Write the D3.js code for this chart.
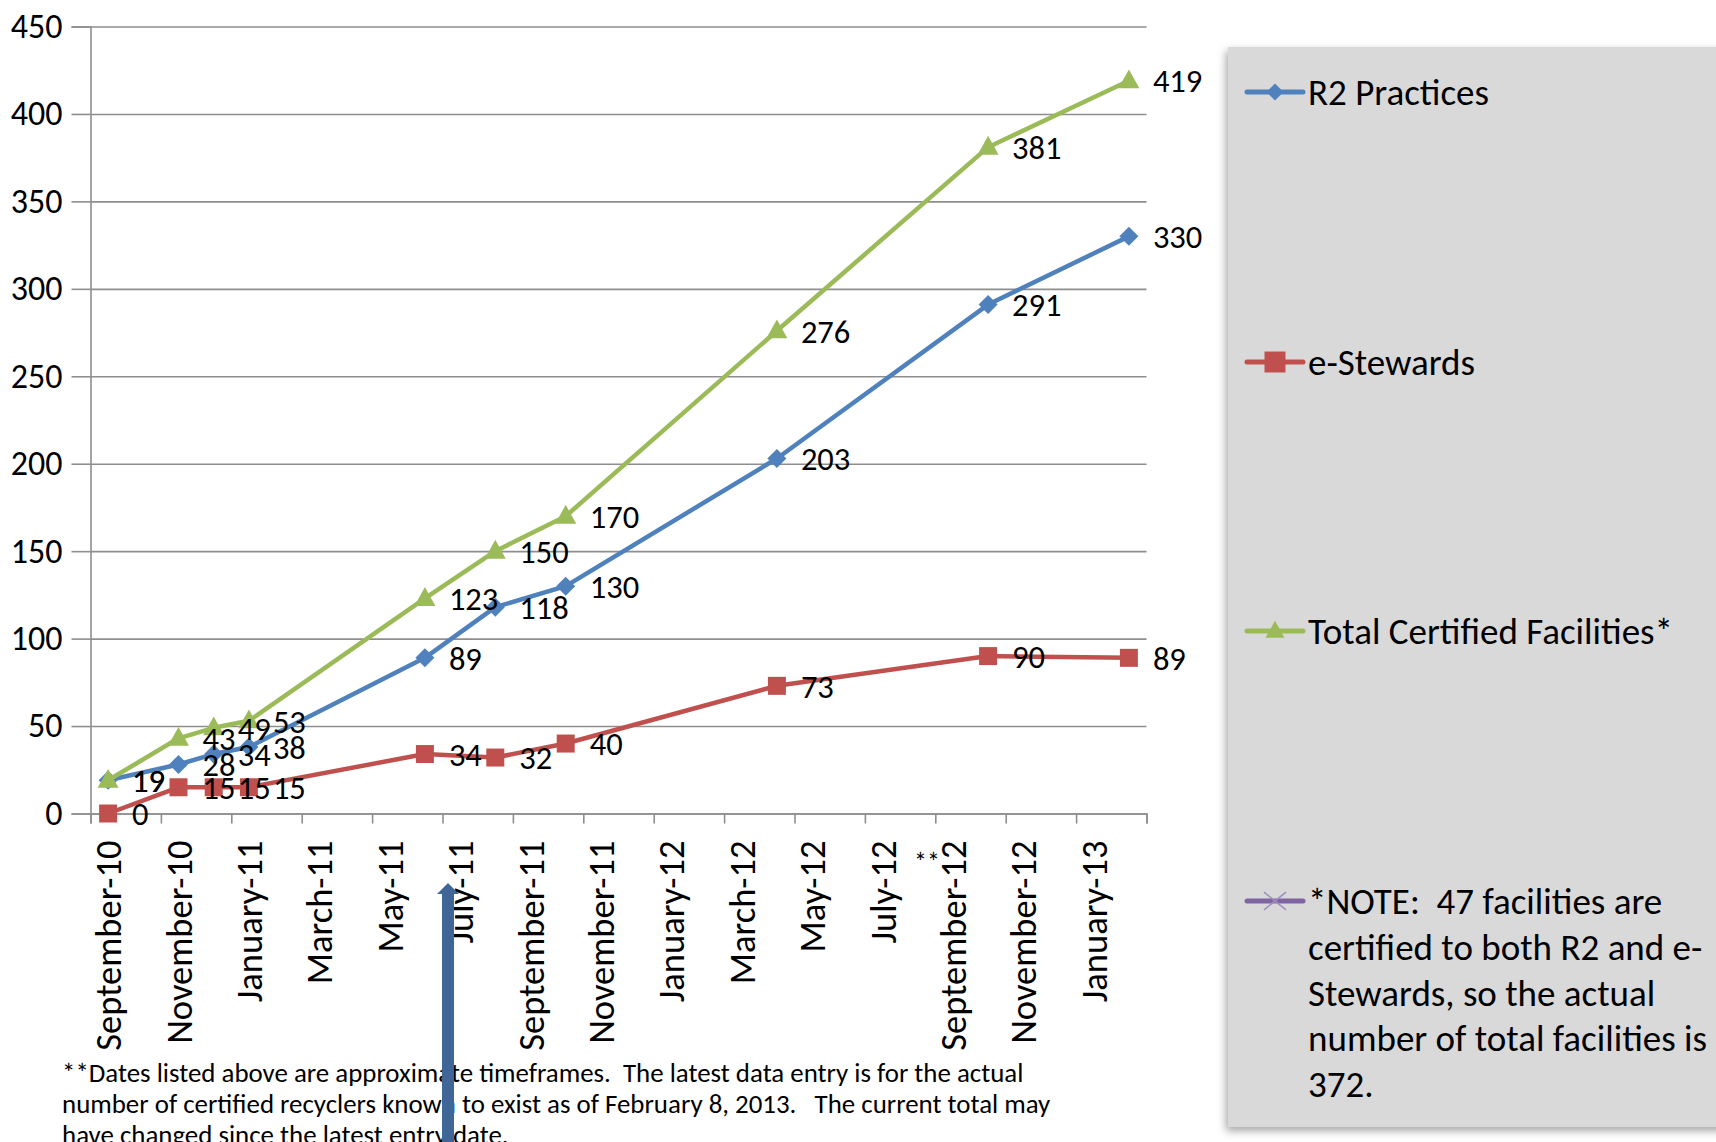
<!DOCTYPE html>
<html>
<head>
<meta charset="utf-8">
<script src="https://cdn.jsdelivr.net/npm/d3@7/dist/d3.min.js"></script>
<style>
  html, body { margin: 0; padding: 0; background: #fff; }
  svg { display: block; }
  text { font-family: Carlito, Calibri, Lato, sans-serif; fill: #000; white-space: pre; }
</style>
</head>
<body>
<svg id="chart" width="1716" height="1142"></svg>
<script>
// ---------- data ----------
const dates = ["2010-09","2010-11","2010-12","2011-01","2011-06","2011-08","2011-10","2012-04","2012-10","2013-02"];
const r2Practices = [19, 28, 34, 38, 89, 118, 130, 203, 291, 330];
const eStewards   = [0, 15, 15, 15, 34, 32, 40, 73, 90, 89];
const totalCertified = [19, 43, 49, 53, 123, 150, 170, 276, 381, 419];
const seriesNames = ["R2 Practices", "e-Stewards", "Total Certified Facilities*"];
const tickLabels = ["September-10","November-10","January-11","March-11","May-11","July-11",
  "September-11","November-11","January-12","March-12","May-12","July-12",
  "September-12","November-12","January-13"];
const yTicks = [0, 50, 100, 150, 200, 250, 300, 350, 400, 450];
const noteLines = ["*NOTE:  47 facilities are", "certified to both R2 and e-",
  "Stewards, so the actual", "number of total facilities is", "372."];
const footnoteLines = [
  "**Dates listed above are approximate timeframes.  The latest data entry is for the actual",
  "number of certified recyclers known to exist as of February 8, 2013.   The current total may",
  "have changed since the latest entry date."];

// ---------- layout ----------
const svg = d3.select("#chart");
const plotL = 90.5, plotR = 1146.5, plotT = 26.5, plotB = 813.5;
const startYear = 2010, startMonth = 9, nMonths = 30;
const monthIndex = s => { const [yy, m] = s.split("-").map(Number); return (yy - startYear) * 12 + (m - startMonth); };

const x = d3.scaleLinear().domain([0, nMonths]).range([plotL, plotR]);
const y = d3.scaleLinear().domain([0, 450]).range([plotB, plotT]);

const colors = { r2: "#4F81BD", es: "#C0504D", tot: "#9BBB59", note: "#8064A2" };
const gridColor = "#8e8e8e";

// gridlines
svg.append("g")
  .attr("transform", `translate(${plotL},0)`)
  .call(d3.axisLeft(y).tickValues(yTicks).tickSize(-(plotR - plotL)).tickFormat(""))
  .call(g => g.select(".domain").remove())
  .call(g => g.selectAll("line").attr("stroke", gridColor).attr("stroke-width", 1.6));

// y axis
svg.append("g")
  .attr("transform", `translate(${plotL},0)`)
  .call(d3.axisLeft(y).tickValues(yTicks).tickSize(19).tickPadding(9))
  .call(g => g.select(".domain").attr("stroke", gridColor).attr("stroke-width", 1.6))
  .call(g => g.selectAll("line").attr("stroke", gridColor).attr("stroke-width", 1.6))
  .call(g => g.selectAll("text").attr("font-size", 34).attr("font-family", "Carlito, Calibri, Lato, sans-serif").attr("fill", "#000"));

// x axis: tick marks at every 2 months
const xTickVals = d3.range(0, nMonths + 1, 2);
svg.append("g")
  .attr("transform", `translate(0,${plotB})`)
  .call(d3.axisBottom(x).tickValues(xTickVals).tickSize(10).tickFormat(""))
  .call(g => g.select(".domain").attr("stroke", gridColor).attr("stroke-width", 1.6))
  .call(g => g.selectAll("line").attr("stroke", gridColor).attr("stroke-width", 1.6));

// x labels, centred on the month slot of each labelled month
svg.append("g").selectAll("text")
  .data(tickLabels)
  .join("text")
  .attr("transform", (d, i) => `translate(${x(i * 2 + 0.5)},${plotB + 27}) rotate(-90)`)
  .attr("text-anchor", "end")
  .attr("dy", "0.36em")
  .attr("font-size", 36.5)
  .text(d => d);

// "**" marker near September-12
svg.append("text")
  .attr("x", x(24.5) - 26).attr("y", plotB + 57)
  .attr("text-anchor", "middle")
  .attr("font-size", 26)
  .text("**");

// ---------- series ----------
const series = [
  { name: seriesNames[0], values: r2Practices, color: colors.r2, marker: "diamond" },
  { name: seriesNames[1], values: eStewards, color: colors.es, marker: "square" },
  { name: seriesNames[2], values: totalCertified, color: colors.tot, marker: "triangle" }
];

function markerPath(type, s) {
  if (type === "diamond") { const h = s / 2; return `M0,${-h}L${h},0L0,${h}L${-h},0Z`; }
  if (type === "square") { const h = s / 2; return `M${-h},${-h}H${h}V${h}H${-h}Z`; }
  if (type === "triangle") { const w = s / 2, hh = s * 0.9; return `M0,${-hh * 0.6}L${w},${hh * 0.4}L${-w},${hh * 0.4}Z`; }
  if (type === "x") { const h = s / 2; return `M${-h},${-h * 0.8}L${h},${h * 0.8}M${-h},${h * 0.8}L${h},${-h * 0.8}`; }
}
const markerSize = { diamond: 19, square: 18, triangle: 21 };

const line = d3.line().x(d => x(monthIndex(d.date) + 0.5)).y(d => y(d.v));

series.forEach(s => {
  const pts = dates.map((d, i) => ({ date: d, v: s.values[i] }));
  const g = svg.append("g");
  g.append("path").attr("d", line(pts)).attr("fill", "none")
    .attr("stroke", s.color).attr("stroke-width", 4.5).attr("stroke-linejoin", "round");
  g.selectAll("path.mk").data(pts).join("path").attr("class", "mk")
    .attr("transform", d => `translate(${x(monthIndex(d.date) + 0.5)},${y(d.v)})`)
    .attr("d", markerPath(s.marker, markerSize[s.marker]))
    .attr("fill", s.color);
  s.pts = pts;
});

// data labels
series.forEach(s => {
  svg.append("g").selectAll("text").data(s.pts).join("text")
    .attr("x", d => x(monthIndex(d.date) + 0.5) + 24)
    .attr("y", d => y(d.v))
    .attr("dy", "0.36em")
    .attr("font-size", 32.5)
    .text(d => d.v);
});

// ---------- legend ----------
const defs = svg.append("defs");
const f = defs.append("filter").attr("id", "shadow").attr("x", "-10%").attr("y", "-5%").attr("width", "120%").attr("height", "115%");
f.append("feDropShadow").attr("dx", -2).attr("dy", 4).attr("stdDeviation", 4)
  .attr("flood-color", "#000").attr("flood-opacity", 0.35);

svg.append("rect")
  .attr("x", 1228).attr("y", 47).attr("width", 520).attr("height", 1080)
  .attr("fill", "#d9d9d9").attr("filter", "url(#shadow)");

const legendItems = [
  { name: seriesNames[0], color: colors.r2, marker: "diamond", y: 92 },
  { name: seriesNames[1], color: colors.es, marker: "square", y: 362 },
  { name: seriesNames[2], color: colors.tot, marker: "triangle", y: 631 },
  { name: null, color: colors.note, marker: "x", y: 901 }
];
const legendFont = 37;
const lg = svg.append("g");
legendItems.forEach(it => {
  lg.append("line").attr("x1", 1247).attr("x2", 1303).attr("y1", it.y).attr("y2", it.y)
    .attr("stroke", it.color).attr("stroke-width", 5).attr("stroke-linecap", "round");
  const mk = lg.append("path").attr("transform", `translate(1275,${it.y})`);
  if (it.marker === "x") {
    mk.attr("d", markerPath("x", 22)).attr("fill", "none").attr("stroke", "#a08cc0").attr("stroke-width", 1.5);
  } else {
    mk.attr("d", markerPath(it.marker, it.marker === "square" ? 21 : (it.marker === "diamond" ? 17 : 19))).attr("fill", it.color);
  }
  if (it.name) {
    lg.append("text").attr("x", 1308).attr("y", it.y).attr("dy", "0.36em")
      .attr("font-size", legendFont).text(it.name);
  }
});
lg.append("g").selectAll("text").data(noteLines).join("text")
  .attr("x", 1308).attr("y", (d, i) => 901 + i * 45.7).attr("dy", "0.36em")
  .attr("font-size", legendFont).text(d => d);

// ---------- footnote ----------
svg.append("g").selectAll("text").data(footnoteLines).join("text")
  .attr("x", 62).attr("y", (d, i) => 1072 + i * 31).attr("dy", "0.36em")
  .attr("font-size", 26.9).text(d => d);

// ---------- arrow ----------
svg.append("path")
  .attr("d", "M442,1142 V894 H437 L448,883 L459,894 H454 V1142 Z")
  .attr("fill", "#3f6697");
</script>
</body>
</html>
